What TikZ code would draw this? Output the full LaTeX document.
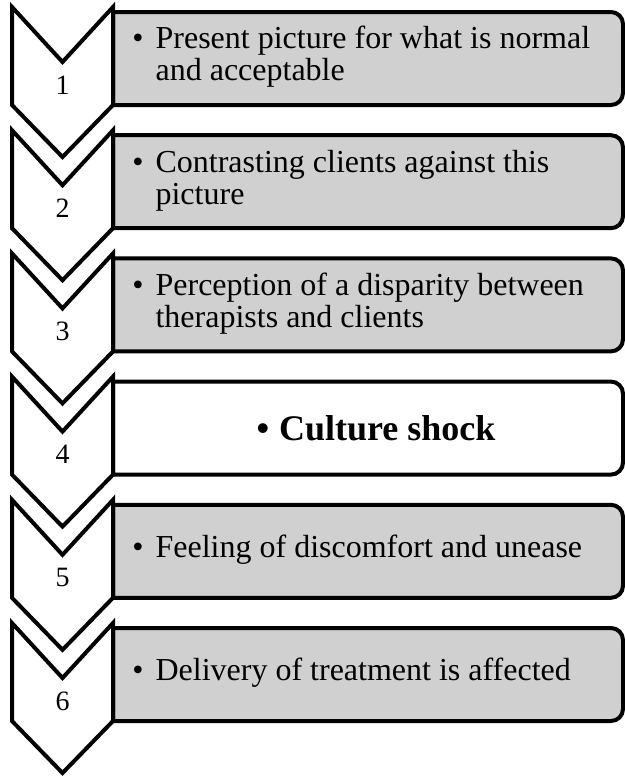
\documentclass[tikz,border=0pt]{standalone}
\usepackage{fontspec}
\setmainfont{Liberation Serif}
\usepackage{tikz}
\usetikzlibrary{positioning}
\definecolor{stepgray}{RGB}{208,208,208}
\newcommand{\itm}[1]{\textbullet\hspace{6pt}\begin{tabular}[t]{@{}l@{}}#1\end{tabular}}

\begin{document}
\begin{tikzpicture}[
    x=0.5pt, y=-0.5pt,
    chev/.style={draw, line width=2pt, fill=white},
    frame/.style={draw, line width=2pt, fill=stepgray},
    boxarea/.style={rectangle, inner sep=0pt, outer sep=0pt, minimum width=255pt, minimum height=46.5pt, anchor=north west},
    num/.style={anchor=base, inner sep=0pt, font=\fontsize{14}{14}\selectfont},
    txt/.style={inner sep=0pt, font=\fontsize{16}{16}\selectfont}
]
    \useasboundingbox (0,0) rectangle (625,778);

    % boxes
    \foreach \n in {1,...,6} {
        \pgfmathsetmacro\ytop{12+123.2*(\n-1)}
        \node[boxarea] (box\n) at (113,\ytop) {};
    }
    \foreach \n/\fc in {1/stepgray, 2/stepgray, 3/stepgray, 4/white, 5/stepgray, 6/stepgray}
        \draw[frame, fill=\fc] (box\n.south west) -- (box\n.north west) [rounded corners=6pt] -- (box\n.north east) -- (box\n.south east) [sharp corners] -- (box\n.south west) -- cycle;

    % chevrons
    \foreach \n in {1,...,6} {
        \pgfmathsetmacro\yc{7+123.2*(\n-1)}
        \draw[chev] (12,\yc) -- (62.5,\yc+55) -- (113,\yc) -- (113,\yc+98) -- (62.5,\yc+150) -- (12,\yc+98) -- cycle;
        \node[num] (num\n) at (62.5,\yc+87) {\n};
    }

    % texts
    \foreach \n/\t in {1/{Present picture for what is normal\\and acceptable},
                       2/{Contrasting clients against this\\picture},
                       3/{Perception of a disparity between\\therapists and clients},
                       5/{Feeling of discomfort and unease},
                       6/{Delivery of treatment is affected}}
        \node[txt, right=9.5pt of box\n.west] (txt\n) {\itm{\t}};
    \node[font=\bfseries\fontsize{18}{18}\selectfont, inner sep=0pt, xshift=4pt] (txt4) at (box4.center) {\textbullet\hspace{5pt}Culture shock};
\end{tikzpicture}
\end{document}
